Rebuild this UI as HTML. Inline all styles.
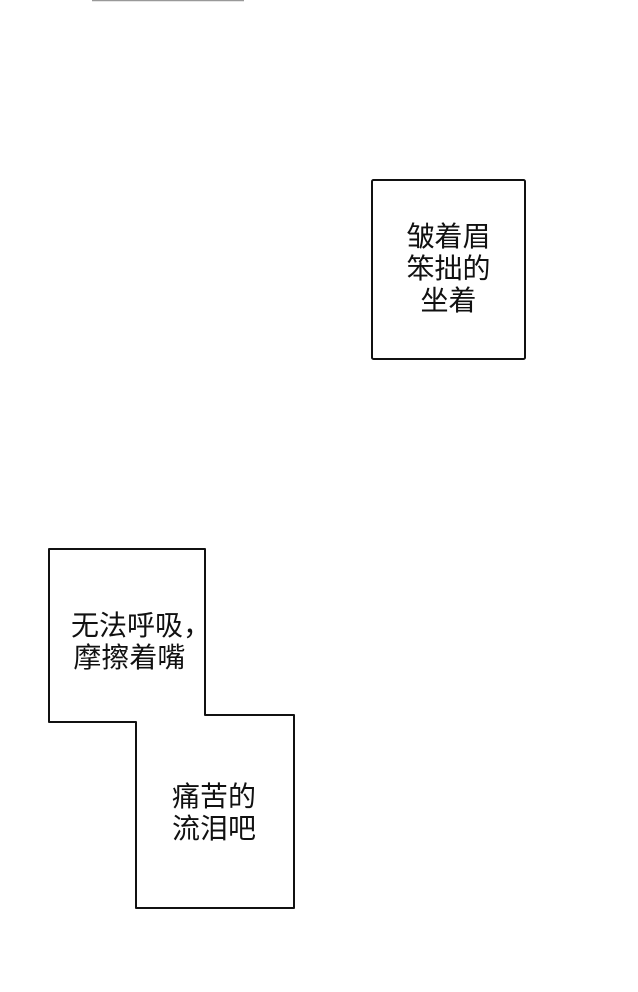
<!DOCTYPE html>
<html><head><meta charset="utf-8"><style>
html,body{margin:0;padding:0;background:#fff;width:638px;height:992px;overflow:hidden;position:relative}
.t{position:absolute;font-family:"Liberation Sans","Noto Sans CJK SC",sans-serif;font-size:28px;line-height:32px;color:#111;white-space:nowrap}
</style></head><body>
<svg width="638" height="992" style="position:absolute;left:0;top:0">
<line x1="92" y1="0.5" x2="244" y2="0.5" stroke="#999" stroke-width="1.5"/>
<rect x="372" y="180" width="153" height="179" fill="#fff" stroke="#111" stroke-width="2" rx="1.5"/>
<polygon points="49,549 205,549 205,715 294,715 294,908 136,908 136,722 49,722" fill="#fff" stroke="#111" stroke-width="2" stroke-linejoin="round"/>
</svg>
<div class="t" style="left:372px;width:153px;top:221px;text-align:center">皱着眉<br>笨拙的<br>坐着</div>
<div class="t" style="left:71px;top:610px">无法呼吸，<br>&#8202;摩擦着嘴</div>
<div class="t" style="left:172px;top:781px">痛苦的<br>流泪吧</div>
</body></html>
